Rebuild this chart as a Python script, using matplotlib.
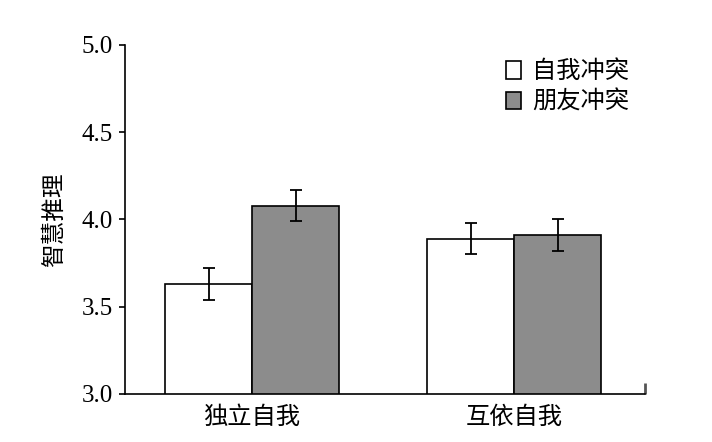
import numpy as np
import matplotlib
matplotlib.use("Agg")
import matplotlib.pyplot as plt
from matplotlib.patches import Patch

# -------------------- data --------------------
groups = ["独立自我", "互依自我"]
series_names = ["自我冲突", "朋友冲突"]
self_conflict = [3.63, 3.89]
friend_conflict = [4.08, 3.91]
self_err = [0.09, 0.09]
friend_err = [0.09, 0.09]
y_ticks = [3.0, 3.5, 4.0, 4.5, 5.0]
y_label = "智慧推理"

# -------------------- style --------------------
plt.rcParams["font.family"] = ["Liberation Serif", "Noto Sans CJK SC", "DejaVu Sans"]
cjk = ["Noto Sans CJK SC", "DejaVu Sans"]
colors = ["white", "#8c8c8c"]

fig = plt.figure(figsize=(7.12, 4.42), dpi=100)
ax = fig.add_axes([0.1756, 0.1086, 0.7303, 0.7896])

x = np.arange(len(groups))
width = 0.332

err_style = dict(elinewidth=1.3, capthick=1.3, ecolor="black")
ax.bar(x - width / 2, self_conflict, width, color=colors[0], edgecolor="black", linewidth=1.2,
       yerr=self_err, capsize=4.3, error_kw=err_style, zorder=2)
ax.bar(x + width / 2, friend_conflict, width, color=colors[1], edgecolor="black", linewidth=1.2,
       yerr=friend_err, capsize=4.3, error_kw=err_style, zorder=2)

ax.set_ylim(3.0, 5.0)
ax.set_xlim(-0.485, 1.5)
ax.set_yticks(y_ticks)
ax.set_yticklabels([f"{v:.1f}" for v in y_ticks], fontsize=18)
ax.set_xticks(x)
ax.set_xticklabels(groups, fontsize=17.5, family=cjk)
ax.set_xticks([1.5], minor=True)

ax.tick_params(axis="y", direction="out", length=4, width=1.2, pad=5)
ax.tick_params(axis="x", which="major", length=0, pad=7)
ax.tick_params(axis="x", which="minor", direction="in", length=8, width=2, color="#555555")

for side in ["top", "right"]:
    ax.spines[side].set_visible(False)
for side in ["left", "bottom"]:
    ax.spines[side].set_linewidth(1.2)

ax.set_ylabel(y_label, fontsize=17, family=cjk, labelpad=11)

handles = [Patch(facecolor=c, edgecolor="black", linewidth=1.2) for c in colors]
leg = ax.legend(handles, series_names, loc="upper right", bbox_to_anchor=(1.007, 1.018),
                frameon=False, prop=dict(family=cjk, size=17.5),
                handlelength=0.62, handleheight=0.75, handletextpad=0.45, labelspacing=0.2,
                borderpad=0.3)

fig.savefig("out.png", dpi=100)
